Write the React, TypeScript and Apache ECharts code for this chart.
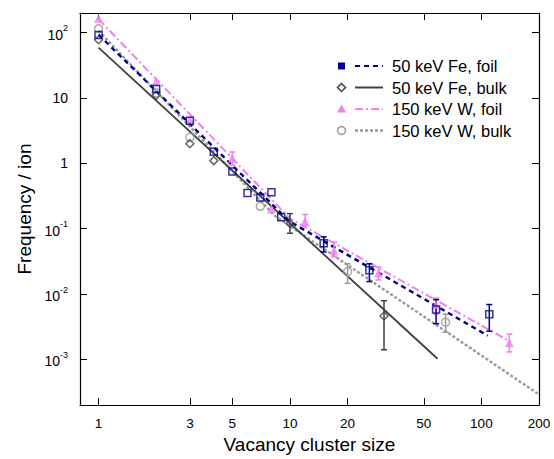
import React, { useEffect, useRef } from 'react';
import * as echarts from 'echarts';

// ---- axis ticks ----
const xTickValues = [1, 3, 5, 10, 20, 50, 100, 200];
const yTickValues = [0.001, 0.01, 0.1, 1, 10, 100];

// ---- 50 keV Fe, foil ----
const feFoilX = [1, 2, 3, 4, 5, 6, 7, 8, 9, 15, 26, 58, 110];
const feFoilY = [92, 13.7, 4.5, 1.5, 0.75, 0.35, 0.3, 0.36, 0.15, 0.06, 0.023, 0.0058, 0.0049];
const feFoilErrX = [15, 26, 58, 110];
const feFoilErrLo = [0.044, 0.0155, 0.0035, 0.0027];
const feFoilErrHi = [0.075, 0.029, 0.0082, 0.0069];
const feFoilFitX = [1, 10, 108];
const feFoilFitY = [93, 0.128, 0.0023];

// ---- 50 keV Fe, bulk ----
const feBulkX = [1, 2, 3, 4, 10, 31];
const feBulkY = [78, 11, 2.0, 1.1, 0.12, 0.0046];
const feBulkErrX = [10, 31];
const feBulkErrLo = [0.085, 0.0014];
const feBulkErrHi = [0.17, 0.0079];
const feBulkFitX = [1, 59];
const feBulkFitY = [59, 0.00102];

// ---- 150 keV W, foil ----
const wFoilX = [1, 2, 3, 5, 8, 12, 17, 29, 58, 140];
const wFoilY = [165, 18, 4.6, 1.2, 0.2, 0.13, 0.046, 0.021, 0.0069, 0.0018];
const wFoilErrX = [5, 12, 17, 29, 58, 140];
const wFoilErrLo = [0.935, 0.111, 0.037, 0.0164, 0.0049, 0.0013];
const wFoilErrHi = [1.49, 0.165, 0.062, 0.026, 0.0087, 0.00244];
const wFoilFitX = [1, 10, 140];
const wFoilFitY = [161, 0.143, 0.0019];

// ---- 150 keV W, bulk ----
const wBulkX = [1, 2, 3, 7, 20, 65];
const wBulkY = [115, 12, 2.5, 0.22, 0.022, 0.0037];
const wBulkErrX = [20, 65];
const wBulkErrLo = [0.0146, 0.0026];
const wBulkErrHi = [0.029, 0.0049];
const wBulkFitX = [1, 8.3, 200];
const wBulkFitY = [107, 0.159, 0.00029];

const legendLabels = ['50 keV Fe, foil', '50 keV Fe, bulk', '150 keV W, foil', '150 keV W, bulk'];

const NAVY = '#00008B';
const DARK = '#404040';
const VIOLET = '#EE82EE';
const GRAY = '#9a9a9a';
const FONT = '"Liberation Sans", Arial, Helvetica, sans-serif';

const X_MIN = 0.8;
const X_MAX = 200.01;
const Y_MIN = 2e-4;
const Y_MAX = 200;

function pairs(xs: number[], ys: number[]) {
  return xs.map((x, i) => [x, ys[i]]);
}

function errorSeries(xs: number[], lo: number[], hi: number[], color: string) {
  return {
    type: 'custom',
    xAxisIndex: 0,
    yAxisIndex: 0,
    silent: true,
    clip: true,
    encode: { x: 0, y: [1, 2] },
    data: xs.map((x, i) => [x, lo[i], hi[i]]),
    renderItem: (params: any, api: any) => {
      const x = api.value(0);
      const p1 = api.coord([x, api.value(1)]);
      const p2 = api.coord([x, api.value(2)]);
      const w = 3;
      const st = { stroke: color, lineWidth: 1.5 };
      return {
        type: 'group',
        children: [
          { type: 'line', shape: { x1: p1[0], y1: p1[1], x2: p2[0], y2: p2[1] }, style: st },
          { type: 'line', shape: { x1: p1[0] - w, y1: p1[1], x2: p1[0] + w, y2: p1[1] }, style: st },
          { type: 'line', shape: { x1: p2[0] - w, y1: p2[1], x2: p2[0] + w, y2: p2[1] }, style: st },
        ],
      };
    },
    z: 3,
  };
}

function fitSeries(xs: number[], ys: number[], color: string, width: number, type: any) {
  return {
    type: 'line',
    data: pairs(xs, ys),
    showSymbol: false,
    symbol: 'none',
    silent: true,
    lineStyle: { color, width, type },
    z: 2,
  };
}

function pointSeries(xs: number[], ys: number[], symbol: string, size: number, fill: string, border: string) {
  return {
    type: 'scatter',
    data: pairs(xs, ys),
    symbol,
    symbolSize: size,
    silent: true,
    itemStyle: { color: fill, borderColor: border, borderWidth: fill === 'transparent' ? 1.5 : 0 },
    z: 4,
  };
}

function legendGraphic() {
  const x0 = 341.5;
  const lx1 = 355;
  const lx2 = 383;
  const tx = 392;
  const ys = [66, 87.5, 109, 130.5];
  const els: any[] = [];
  // markers
  els.push({ type: 'rect', shape: { x: x0 - 3.5, y: ys[0] - 3.5, width: 7, height: 7 }, style: { fill: NAVY } });
  els.push({
    type: 'polygon',
    shape: { points: [[x0, ys[1] - 4], [x0 + 4, ys[1]], [x0, ys[1] + 4], [x0 - 4, ys[1]]] },
    style: { fill: 'none', stroke: DARK, lineWidth: 1.5 },
  });
  els.push({
    type: 'polygon',
    shape: { points: [[x0, ys[2] - 4.5], [x0 + 4.5, ys[2] + 3.5], [x0 - 4.5, ys[2] + 3.5]] },
    style: { fill: VIOLET },
  });
  els.push({ type: 'circle', shape: { cx: x0, cy: ys[3], r: 4 }, style: { fill: 'none', stroke: GRAY, lineWidth: 1.5 } });
  // lines
  const lineStyles = [
    { stroke: NAVY, lineWidth: 2.2, lineDash: [5, 4] },
    { stroke: DARK, lineWidth: 2 },
    { stroke: VIOLET, lineWidth: 2, lineDash: [8, 3, 2, 3] },
    { stroke: GRAY, lineWidth: 2.4, lineDash: [3, 2] },
  ];
  ys.forEach((y, i) => {
    els.push({ type: 'line', shape: { x1: lx1, y1: y, x2: lx2, y2: y }, style: lineStyles[i] });
    els.push({
      type: 'text',
      x: tx,
      y,
      style: { text: legendLabels[i], fill: '#000', font: `16.5px ${FONT}`, textVerticalAlign: 'middle', verticalAlign: 'middle', align: 'left' },
    });
  });
  return els;
}

function yLabel(v: number) {
  const e = Math.round(Math.log10(v));
  if (e === 0) return '1';
  if (e === 1) return '10';
  return `{b|10}{s|${e}}`;
}

const option: any = {
  animation: false,
  backgroundColor: '#ffffff',
  textStyle: { fontFamily: FONT },
  grid: { left: 80, right: 15, top: 13, bottom: 48, containLabel: false },
  xAxis: [
    {
      type: 'log',
      logBase: 10,
      min: X_MIN,
      max: X_MAX,
      position: 'bottom',
      name: 'Vacancy cluster size',
      nameLocation: 'middle',
      nameGap: 30,
      nameTextStyle: { fontSize: 19, color: '#000', fontFamily: FONT },
      axisLine: { show: true, onZero: false, lineStyle: { color: '#000', width: 1.2 } },
      axisTick: { show: true, inside: true, length: 7, customValues: xTickValues, lineStyle: { color: '#000', width: 1 } },
      axisLabel: { show: true, customValues: xTickValues, margin: 11, fontSize: 13.5, color: '#000', fontFamily: FONT, formatter: (v: number) => String(Math.round(v)) },
      splitLine: { show: false },
      minorTick: { show: false },
    },
    {
      type: 'log',
      logBase: 10,
      min: X_MIN,
      max: X_MAX,
      position: 'top',
      axisLine: { show: true, onZero: false, lineStyle: { color: '#000', width: 1.2 } },
      axisTick: { show: true, inside: true, length: 7, customValues: xTickValues, lineStyle: { color: '#000', width: 1 } },
      axisLabel: { show: false },
      splitLine: { show: false },
    },
  ],
  yAxis: [
    {
      type: 'log',
      logBase: 10,
      min: Y_MIN,
      max: Y_MAX,
      position: 'left',
      name: 'Frequency / ion',
      nameLocation: 'middle',
      nameGap: 46,
      nameTextStyle: { fontSize: 19, color: '#000', fontFamily: FONT },
      axisLine: { show: true, onZero: false, lineStyle: { color: '#000', width: 1.2 } },
      axisTick: { show: true, inside: true, length: 7, customValues: yTickValues, lineStyle: { color: '#000', width: 1 } },
      axisLabel: {
        show: true,
        customValues: yTickValues,
        margin: 12,
        fontSize: 14,
        color: '#000',
        fontFamily: FONT,
        formatter: yLabel,
        rich: {
          b: { fontSize: 14, color: '#000', fontFamily: FONT, lineHeight: 18, verticalAlign: 'bottom' },
          s: { fontSize: 9, color: '#000', fontFamily: FONT, lineHeight: 10, verticalAlign: 'top' },
        },
      },
      splitLine: { show: false },
    },
    {
      type: 'log',
      logBase: 10,
      min: Y_MIN,
      max: Y_MAX,
      position: 'right',
      axisLine: { show: true, onZero: false, lineStyle: { color: '#000', width: 1.2 } },
      axisTick: { show: true, inside: true, length: 7, customValues: yTickValues, lineStyle: { color: '#000', width: 1 } },
      axisLabel: { show: false },
      splitLine: { show: false },
    },
  ],
  series: [
    fitSeries(wBulkFitX, wBulkFitY, GRAY, 2.4, [3, 2]),
    fitSeries(feBulkFitX, feBulkFitY, DARK, 1.8, 'solid'),
    fitSeries(wFoilFitX, wFoilFitY, VIOLET, 2, [8, 3, 2, 3]),
    fitSeries(feFoilFitX, feFoilFitY, NAVY, 2.4, [5, 4]),
    errorSeries(wBulkErrX, wBulkErrLo, wBulkErrHi, GRAY),
    errorSeries(feBulkErrX, feBulkErrLo, feBulkErrHi, DARK),
    errorSeries(wFoilErrX, wFoilErrLo, wFoilErrHi, VIOLET),
    errorSeries(feFoilErrX, feFoilErrLo, feFoilErrHi, NAVY),
    pointSeries(wBulkX, wBulkY, 'circle', 8, 'transparent', GRAY),
    pointSeries(feBulkX, feBulkY, 'diamond', 8, 'transparent', DARK),
    pointSeries(wFoilX, wFoilY, 'triangle', 9, VIOLET, VIOLET),
    pointSeries(feFoilX, feFoilY, 'rect', 7, 'transparent', NAVY),
  ],
  graphic: legendGraphic(),
};

export default function App() {
  const ref = useRef<HTMLDivElement>(null);
  useEffect(() => {
    if (!ref.current) return;
    const chart = echarts.init(ref.current, null, { renderer: 'svg' });
    chart.setOption(option);
    return () => chart.dispose();
  }, []);
  return (
    <div
      ref={ref}
      style={{ position: 'fixed', left: 0, top: 0, width: 554, height: 459, background: '#fff' }}
    />
  );
}
